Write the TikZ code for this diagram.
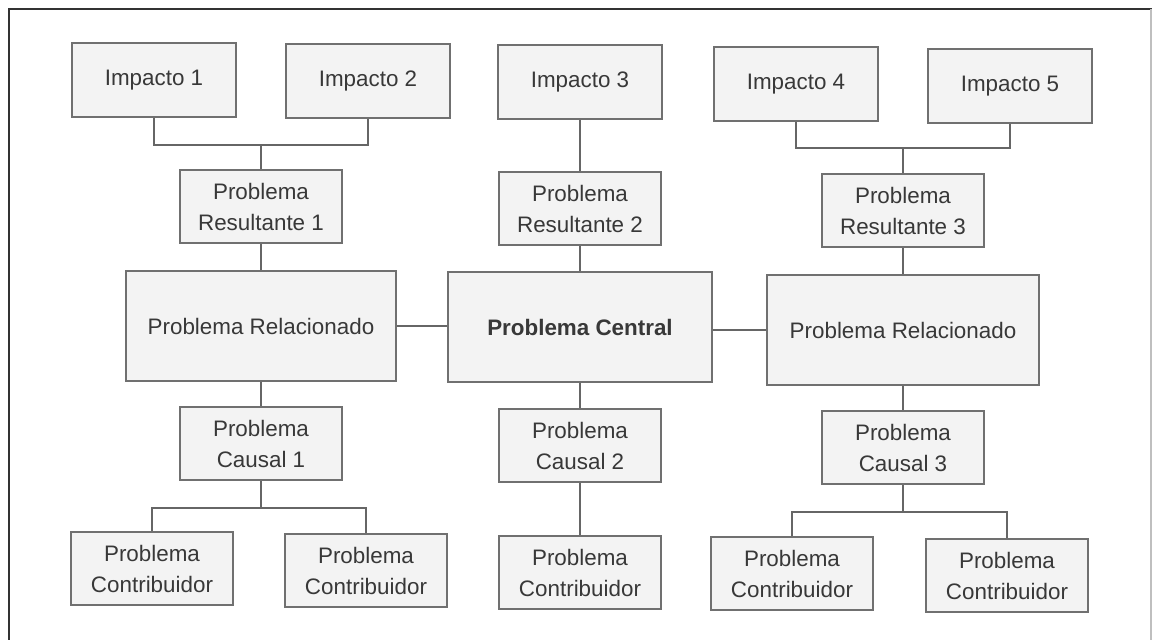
\documentclass[tikz,border=0pt]{standalone}
\usepackage{fontspec}
\setmainfont{Liberation Sans}
\definecolor{boxline}{HTML}{707070}
\definecolor{boxfill}{HTML}{F3F3F3}
\definecolor{txt}{HTML}{383838}
\definecolor{conn}{HTML}{666666}
\definecolor{frame}{HTML}{333333}
\begin{document}
\begin{tikzpicture}[x=0.5pt,y=-0.5pt,
  box/.style={draw=boxline, fill=boxfill, line width=1pt, align=center, text=txt,
    inner sep=2pt, font=\fontsize{11.2}{15.5}\selectfont},
  imp/.style={box, minimum width=82pt, minimum height=37pt},
  small/.style={box, minimum width=81pt, minimum height=36.5pt},
  big/.style={box, minimum width=134pt, minimum height=55pt},
  link/.style={draw=conn, line width=1pt}]
\useasboundingbox (0,0) rectangle (1152,640);
% frame
\draw[frame, line width=1.2pt] (1152,9) -- (9,9) -- (9,640);
\draw[black!25, line width=0.6pt] (1151,9) -- (1151,640);
% top row
\node[imp] (i1) at (154,80) {Impacto 1};
\node[imp] (i2) at (368,81) {Impacto 2};
\node[imp] (i3) at (580,82) {Impacto 3};
\node[imp] (i4) at (796,84) {Impacto 4};
\node[imp] (i5) at (1010,86) {Impacto 5};
% resultant
\node[small] (r1) at (261,207) {Problema\\Resultante 1};
\node[small] (r2) at (580,209) {Problema\\Resultante 2};
\node[small] (r3) at (903,211) {Problema\\Resultante 3};
% middle
\node[big, minimum width=135pt] (p1) at (261,326) {Problema Relacionado};
\node[big, minimum width=132pt] (pc) at (580,327) {\bfseries Problema Central};
\node[big, minimum width=136pt] (p3) at (903,330) {Problema Relacionado};
% causal
\node[small] (c1) at (261,444) {Problema\\Causal 1};
\node[small] (c2) at (580,446) {Problema\\Causal 2};
\node[small] (c3) at (903,448) {Problema\\Causal 3};
% contributors
\node[small] (k1) at (152,569) {Problema\\Contribuidor};
\node[small] (k2) at (366,571) {Problema\\Contribuidor};
\node[small] (k3) at (580,573) {Problema\\Contribuidor};
\node[small] (k4) at (792,574) {Problema\\Contribuidor};
\node[small] (k5) at (1007,576) {Problema\\Contribuidor};
% junction points
\coordinate (j1) at (261,145);
\coordinate (j3) at (903,148);
\coordinate (m1) at (261,508);
\coordinate (m3) at (903,512);
% connectors
\draw[link] (i1.south) |- (j1) -| (i2.south);
\draw[link] (j1) -- (r1.north);
\draw[link] (i4.south) |- (j3) -| (i5.south);
\draw[link] (j3) -- (r3.north);
\draw[link] (i3.south) -- (r2.north);
\draw[link] (r1.south) -- (p1.north);
\draw[link] (r2.south) -- (pc.north);
\draw[link] (r3.south) -- (p3.north);
\draw[link] (p1.east) -- (pc.west |- p1.east);
\draw[link] (pc.east |- p3.west) -- (p3.west);
\draw[link] (p1.south) -- (c1.north);
\draw[link] (pc.south) -- (c2.north);
\draw[link] (p3.south) -- (c3.north);
\draw[link] (c1.south) -- (m1);
\draw[link] (k1.north) |- (m1) -| (k2.north);
\draw[link] (c3.south) -- (m3);
\draw[link] (k4.north) |- (m3) -| (k5.north);
\draw[link] (c2.south) -- (k3.north);
\end{tikzpicture}
\end{document}
